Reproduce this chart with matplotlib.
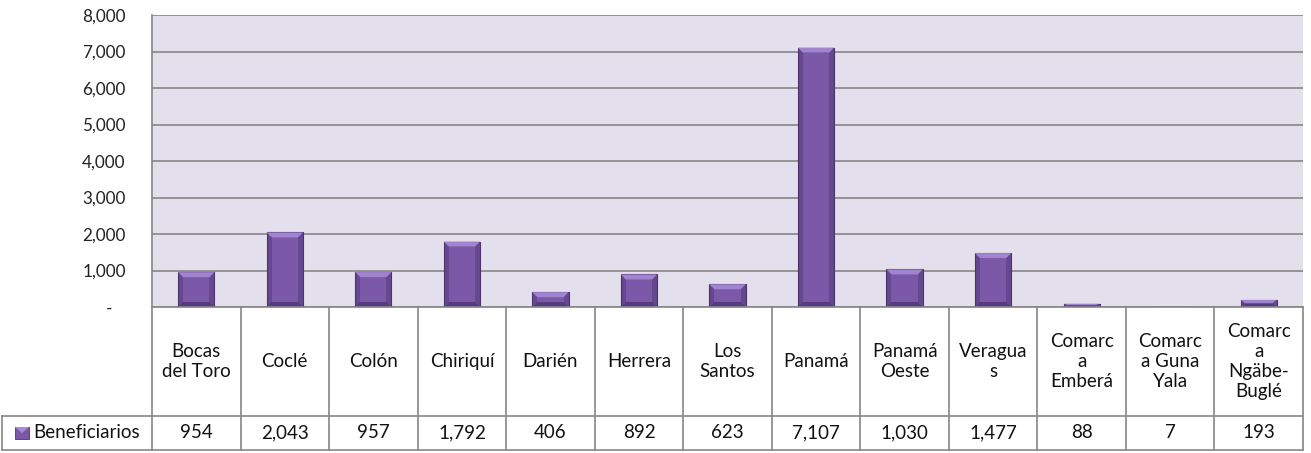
import numpy as np
import matplotlib.pyplot as plt
from matplotlib.patches import Polygon, Rectangle

# Datos
provincias = ['Bocas\ndel Toro', 'Coclé', 'Colón', 'Chiriquí', 'Darién', 'Herrera',
              'Los\nSantos', 'Panamá', 'Panamá\nOeste', 'Veragua\ns',
              'Comarc\na\nEmberá', 'Comarc\na Guna\nYala', 'Comarc\na\nNgäbe-\nBuglé']
beneficiarios = [954, 2043, 957, 1792, 406, 892, 623, 7107, 1030, 1477, 88, 7, 193]
serie = 'Beneficiarios'
yticks = [0, 1000, 2000, 3000, 4000, 5000, 6000, 7000, 8000]

plt.rcParams['font.family'] = ['Lato', 'DejaVu Sans']

W, H = 1311, 453
fig = plt.figure(figsize=(W / 100, H / 100), dpi=100)

# posiciones en pixeles
x0, x1 = 152, 1303
ytop, y0 = 15, 307
ycat, yend = 416, 450
xhead = 2
fs = 13.5

ax = fig.add_axes([x0 / W, 1 - y0 / H, (x1 - x0) / W, (y0 - ytop) / H])
ax.set_facecolor('#E4DFEC')
n = len(beneficiarios)
ax.set_xlim(-0.5, n - 0.5)
ax.set_ylim(0, 8000)
ax.set_yticks(yticks)
ax.set_yticklabels(['-   ' if t == 0 else f'{t:,}' for t in yticks], fontsize=12.3, color='#222222')
ax.tick_params(axis='y', length=0, pad=19)
ax.set_xticks([])
ax.grid(axis='y', color='#868686', linewidth=1.2)
ax.set_axisbelow(True)
for s in ['top', 'right', 'bottom']:
    ax.spines[s].set_visible(False)
ax.spines['left'].set_color('#868686')
ax.spines['left'].set_linewidth(1.2)

# barras con bisel
ancho = 0.41
bx = 5 / ((x1 - x0) / n)
by = 5 / ((y0 - ytop) / 8000)
for i, v in enumerate(beneficiarios):
    l, r = i - ancho / 2, i + ancho / 2
    b = min(by, v / 2)
    ax.add_patch(Rectangle((l, 0), ancho, v, facecolor='#654890', edgecolor='#4a346c', linewidth=0.8, zorder=3))
    ax.add_patch(Rectangle((l + bx, b), ancho - 2 * bx, v - 2 * b, facecolor='#7c58a8', linewidth=0, zorder=4))
    ax.add_patch(Polygon([(l, v), (r, v), (r - bx, v - b), (l + bx, v - b)], closed=True,
                         facecolor='#a084d0', linewidth=0, zorder=4))
    ax.add_patch(Polygon([(l, 0), (r, 0), (r - bx, b), (l + bx, b)], closed=True,
                         facecolor='#563c7d', linewidth=0, zorder=4))

# tabla de datos
colw = (x1 - x0) / n
tab = fig.add_axes([xhead / W, 1 - yend / H, (x1 - xhead) / W, (yend - y0) / H])
tab.set_xlim(-0.5 - (x0 - xhead) / colw, n - 0.5)
tab.set_ylim(yend, y0)
tab.axis('off')
lc = '#868686'
lw = 1.2
tab.plot([-0.5, n - 0.5], [y0, y0], color=lc, lw=lw, clip_on=False)
xl = -0.5 - (x0 - xhead) / colw
for yy in [ycat, yend]:
    tab.plot([xl, n - 0.5], [yy, yy], color=lc, lw=lw, clip_on=False)
tab.plot([xl, xl], [ycat, yend], color=lc, lw=lw, clip_on=False)
for k in range(n + 1):
    tab.plot([k - 0.5, k - 0.5], [y0, yend], color=lc, lw=lw, clip_on=False)

for i, (p, v) in enumerate(zip(provincias, beneficiarios)):
    tab.text(i, (y0 + ycat) / 2, p, ha='center', va='center', fontsize=fs,
             linespacing=1.2, color='#111111')
    tab.text(i, (ycat + yend) / 2, f'{v:,}', ha='center', va='center', fontsize=fs, color='#111111')

# leyenda en la tabla
mk = 14 / colw
mx = xl + 13 / colw
ym = (ycat + yend) / 2
tab.add_patch(Rectangle((mx, ym - 6), mk, 12, facecolor='#7a58a6', edgecolor='#4a346c', linewidth=0.6))
tab.add_patch(Polygon([(mx, ym - 6), (mx + mk, ym - 6), (mx + mk / 2, ym)], closed=True,
                      facecolor='#a98ad6', linewidth=0))
tab.text(mx + mk + 4 / colw, ym, serie, ha='left', va='center', fontsize=fs, color='#111111')

fig.savefig('out.png', dpi=100)
